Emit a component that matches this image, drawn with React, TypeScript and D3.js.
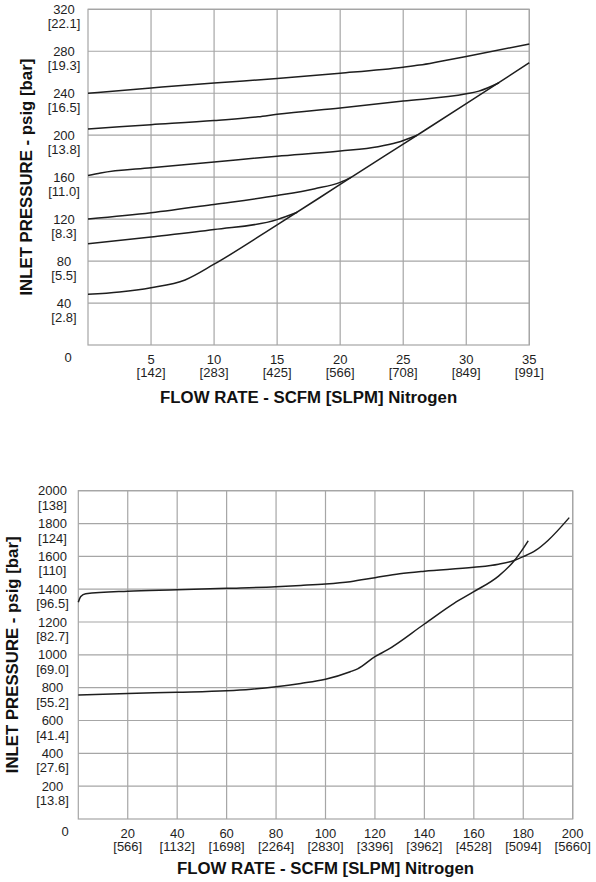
import React from "react";
import * as d3 from "d3";

// ---------- Data: top chart (SCFM vs psig) ----------
const topXTicks = [5, 10, 15, 20, 25, 30, 35];
const topXSub = ["[142]", "[283]", "[425]", "[566]", "[708]", "[849]", "[991]"];
const topYTicks = [40, 80, 120, 160, 200, 240, 280, 320];
const topYSub = ["[2.8]", "[5.5]", "[8.3]", "[11.0]", "[13.8]", "[16.5]", "[19.3]", "[22.1]"];

const topCurve1: [number, number][] = [[0, 240], [5, 245], [10, 249.8], [15, 254], [20, 259], [25, 264.8], [26.3, 266.8], [28, 270.5], [30, 275], [35, 287]];
const topCurve2: [number, number][] = [[0, 206], [5, 210], [10, 214], [13.5, 217.5], [15, 220], [20, 226], [25, 232.5], [30, 239.5], [31, 242], [32.6, 250]];
const topCurve3: [number, number][] = [[0, 161.5], [1, 164], [5, 169], [10, 174.5], [15, 180], [20, 185], [23, 189], [24.5, 193], [26.1, 200]];
const topCurve4: [number, number][] = [[0, 120], [5, 126], [10, 134], [15, 142.5], [18, 149], [20, 155], [20.9, 160]];
const topCurve5: [number, number][] = [[0, 96.5], [5, 103], [10, 110], [15, 119.5], [16.6, 126.5]];
const topCurve6: [number, number][] = [[0, 48.3], [2.5, 50.5], [5, 54.6], [7.7, 62], [10, 77], [15, 114.5], [20, 153], [25, 191.5], [30, 230], [35, 269]];

// ---------- Data: bottom chart ----------
const botXTicks = [20, 40, 60, 80, 100, 120, 140, 160, 180, 200];
const botXSub = ["[566]", "[1132]", "[1698]", "[2264]", "[2830]", "[3396]", "[3962]", "[4528]", "[5094]", "[5660]"];
const botYTicks = [200, 400, 600, 800, 1000, 1200, 1400, 1600, 1800, 2000];
const botYSub = ["[13.8]", "[27.6]", "[41.4]", "[55.2]", "[69.0]", "[82.7]", "[96.5]", "[110]", "[124]", "[138]"];

const botCurveA: [number, number][] = [[0, 1320], [1, 1355], [3, 1372], [20, 1388], [40, 1396], [60, 1405], [80, 1415], [90, 1423], [100, 1432], [110, 1446], [120, 1470], [130, 1494], [140, 1510], [160, 1533], [170, 1552], [176, 1573], [180, 1598], [185, 1636], [190, 1697], [198.6, 1836]];
const botCurveB: [number, number][] = [[0, 755], [20, 765], [40, 772], [60, 781], [70, 791], [80, 806], [90, 826], [100, 851], [110, 897], [113, 915], [120, 989], [125, 1030], [140, 1188], [152, 1314], [160, 1385], [170, 1480], [176, 1567], [180, 1649], [182, 1695]];

const X_TITLE = "FLOW RATE - SCFM [SLPM] Nitrogen";
const Y_TITLE = "INLET PRESSURE - psig [bar]";

const FONT = "'Liberation Sans', Arial, sans-serif";
const GRID = "#a6a6a6";
const INK = "#1e1e1e";

type ChartProps = {
  left: number; top: number; right: number; bottom: number;
  xMax: number; yMax: number;
  xTicks: number[]; xSub: string[];
  yTicks: number[]; ySub: string[];
  curves: [number, number][][];
  yLabelX: number; zeroX: number; yTitleX: number; xTitleY: number;
};

function Chart(p: ChartProps) {
  const x = d3.scaleLinear().domain([0, p.xMax]).range([p.left, p.right]);
  const y = d3.scaleLinear().domain([0, p.yMax]).range([p.bottom, p.top]);
  const line = d3.line<[number, number]>()
    .x((d) => x(d[0]))
    .y((d) => y(d[1]))
    .curve(d3.curveMonotoneX);
  const cx = (p.left + p.right) / 2;
  const cy = (p.top + p.bottom) / 2;
  return (
    <g>
      {p.xTicks.map((t) => (
        <line key={"gx" + t} x1={x(t)} x2={x(t)} y1={p.top} y2={p.bottom} stroke={GRID} strokeWidth={1.2} />
      ))}
      {p.yTicks.map((t) => (
        <line key={"gy" + t} x1={p.left} x2={p.right} y1={y(t)} y2={y(t)} stroke={GRID} strokeWidth={1.2} />
      ))}
      <rect x={p.left} y={p.top} width={p.right - p.left} height={p.bottom - p.top} fill="none" stroke={GRID} strokeWidth={1.2} />
      {p.curves.map((c, i) => (
        <path key={"c" + i} d={line(c) || ""} fill="none" stroke={INK} strokeWidth={1.5} />
      ))}
      <g fontFamily={FONT} fontSize={13} fill={INK} textAnchor="middle">
        {p.yTicks.map((t, i) => (
          <g key={"yl" + t}>
            <text x={p.yLabelX} y={y(t)} dominantBaseline="central">{t}</text>
            <text x={p.yLabelX} y={y(t) + 14.5} dominantBaseline="central">{p.ySub[i]}</text>
          </g>
        ))}
        <text x={p.zeroX} y={p.bottom + 12} dominantBaseline="central">0</text>
        {p.xTicks.map((t, i) => (
          <g key={"xl" + t}>
            <text x={x(t)} y={p.bottom + 14} dominantBaseline="central">{t}</text>
            <text x={x(t)} y={p.bottom + 27.5} dominantBaseline="central">{p.xSub[i]}</text>
          </g>
        ))}
      </g>
      <text x={cx} y={p.xTitleY} textAnchor="middle" dominantBaseline="central" fontFamily={FONT} fontWeight="bold" fontSize={16.8} fill="#111">{X_TITLE}</text>
      <text transform={`translate(${p.yTitleX},${cy}) rotate(-90)`} textAnchor="middle" dominantBaseline="central" fontFamily={FONT} fontWeight="bold" fontSize={16.8} fill="#111">{Y_TITLE}</text>
    </g>
  );
}

export default function App() {
  return (
    <div style={{ position: "absolute", left: 0, top: 0 }}>
      <svg width={596} height={882} style={{ display: "block", background: "#fff" }}>
        <Chart
          left={88} top={9.3} right={529.3} bottom={345}
          xMax={35} yMax={320}
          xTicks={topXTicks} xSub={topXSub}
          yTicks={topYTicks} ySub={topYSub}
          curves={[topCurve1, topCurve2, topCurve3, topCurve4, topCurve5, topCurve6]}
          yLabelX={64} zeroX={68} yTitleX={26} xTitleY={397}
        />
        <Chart
          left={78.3} top={490.7} right={572.7} bottom={819}
          xMax={200} yMax={2000}
          xTicks={botXTicks} xSub={botXSub}
          yTicks={botYTicks} ySub={botYSub}
          curves={[botCurveA, botCurveB]}
          yLabelX={52.5} zeroX={65} yTitleX={12} xTitleY={868}
        />
      </svg>
    </div>
  );
}
